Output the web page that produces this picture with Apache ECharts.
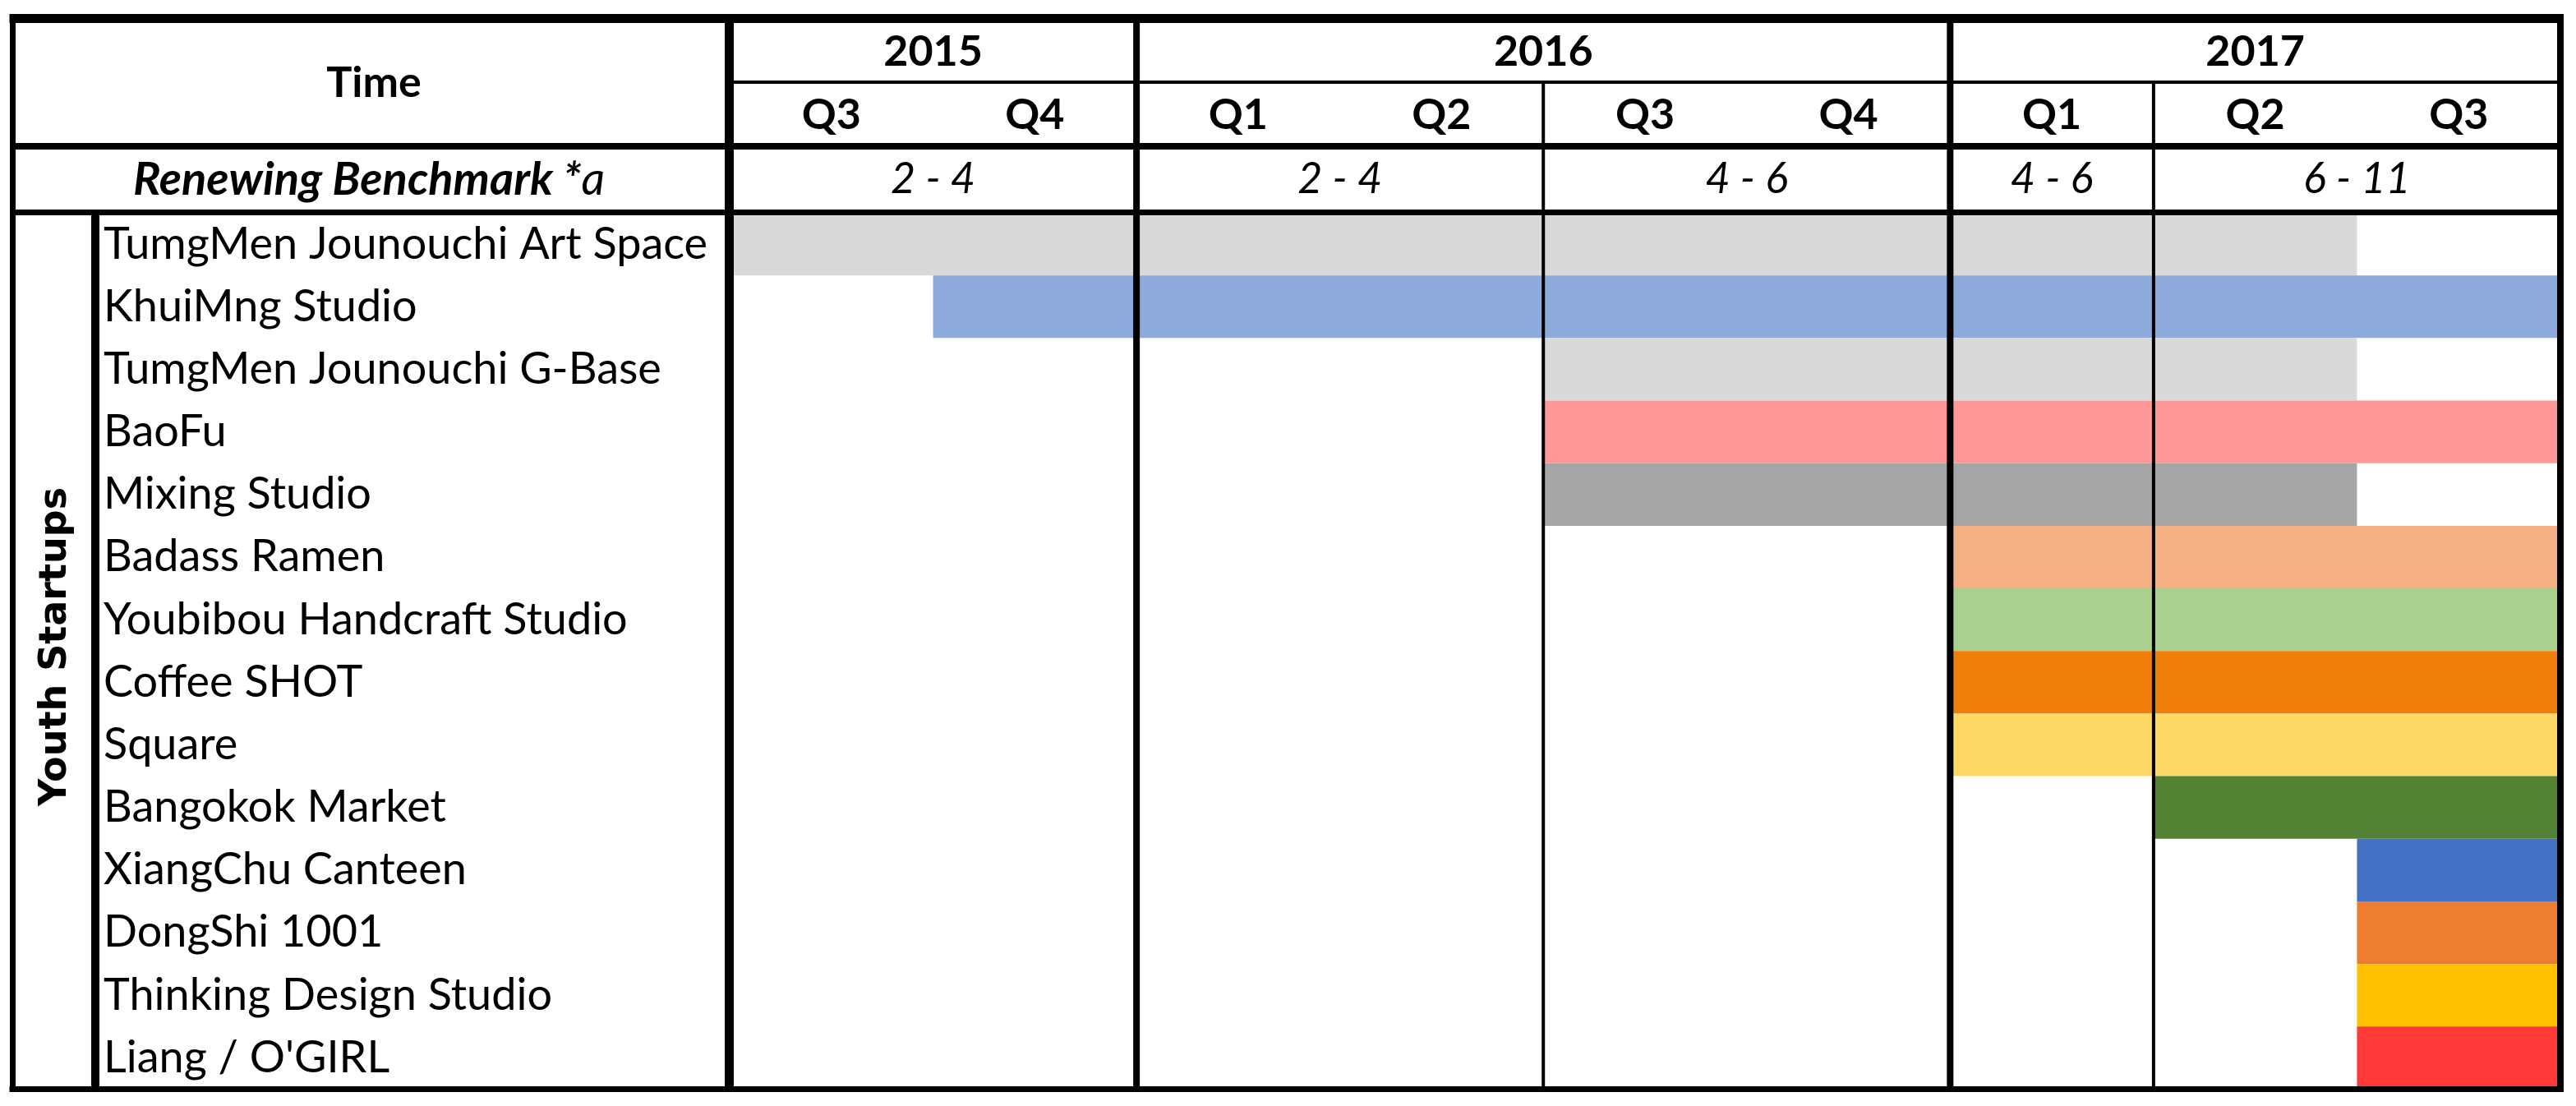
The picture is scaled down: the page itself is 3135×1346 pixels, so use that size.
<!DOCTYPE html>
<html>
<head>
<meta charset="utf-8">
<title>Youth Startups</title>
<script src="https://cdn.jsdelivr.net/npm/echarts@6/dist/echarts.min.js"></script>
<style>
  html, body { margin: 0; padding: 0; background: #fff; }
  #main { width: 3135px; height: 1346px; }
</style>
</head>
<body>
<div id="main"></div>
<script>
// table rows, top to bottom
const startups = [
  'TumgMen Jounouchi Art Space', 'KhuiMng Studio', 'TumgMen Jounouchi G-Base', 'BaoFu',
  'Mixing Studio', 'Badass Ramen', 'Youbibou Handcraft Studio', 'Coffee SHOT', 'Square',
  'Bangokok Market', 'XiangChu Canteen', 'DongShi 1001', 'Thinking Design Studio', 'Liang / O\'GIRL'
]
// quarter index (0 = 2015 Q3 ... 8 = 2017 Q3), start inclusive, end exclusive
const startQ = [0, 1, 4, 4, 4, 6, 6, 6, 6, 7, 8, 8, 8, 8]
const endQ   = [8, 9, 8, 9, 8, 9, 9, 9, 9, 9, 9, 9, 9, 9]
const barColors = [
  '#D9D9D9', '#8EA9DB', '#D9D9D9', '#FF9999', '#A6A6A6', '#F4B084', '#A9D08E',
  '#F07E0A', '#FFD966', '#548235', '#4472C4', '#ED7D31', '#FFC000', '#FF3838'
]

const quarters = ['Q3', 'Q4', 'Q1', 'Q2', 'Q3', 'Q4', 'Q1', 'Q2', 'Q3']
const years = ['2015', '2016', '2017']
const yearStart = [0, 2, 6]
const yearEnd = [2, 6, 9]
const benchmarks = ['2 - 4', '2 - 4', '4 - 6', '4 - 6', '6 - 11']
const benchStart = [0, 2, 4, 6, 7]
const benchEnd = [2, 4, 6, 7, 9]

const FONT = 'Lato, "Open Sans", sans-serif'
const FS = 52
const W = 3135, H = 1346
const tableLeft = 15.5, tableRight = 3116, tableTop = 22.5, tableBottom = 1325.5
const gridLeft = 888, gridTop = 259

// header cells: row 0 = years, 1 = quarters, 2 = benchmark
const headerCells = []
years.forEach((t, i) => headerCells.push({ s: yearStart[i], e: yearEnd[i], row: 0, text: t, bold: true }))
quarters.forEach((t, i) => headerCells.push({ s: i, e: i + 1, row: 1, text: t, bold: true }))
benchmarks.forEach((t, i) => headerCells.push({ s: benchStart[i], e: benchEnd[i], row: 2, text: t, italic: true }))

const chart = echarts.init(document.getElementById('main'))

const option = {
  animation: false,
  backgroundColor: '#fff',
  grid: [
    { left: gridLeft, right: W - tableRight, top: 24, height: 233 },
    { left: gridLeft, right: W - tableRight, top: gridTop, bottom: H - tableBottom }
  ],
  xAxis: [
    { gridIndex: 0, type: 'value', min: 0, max: 9, show: false },
    { gridIndex: 1, type: 'value', min: 0, max: 9, show: false }
  ],
  yAxis: [
    { gridIndex: 0, type: 'category', data: ['year', 'quarter', 'bench'], inverse: true, show: false },
    {
      gridIndex: 1, type: 'category', data: startups, inverse: true,
      axisLine: { show: false }, axisTick: { show: false }, splitLine: { show: false },
      axisLabel: { align: 'left', margin: gridLeft - 126, fontSize: 54, fontFamily: FONT, color: '#000' }
    }
  ],
  series: [
    {
      type: 'custom', xAxisIndex: 1, yAxisIndex: 1, silent: true,
      data: startups.map((n, i) => [startQ[i], endQ[i], i]),
      encode: { x: [0, 1], y: 2 },
      renderItem: (params, api) => {
        const row = api.value(2)
        const p0 = api.coord([api.value(0), row])
        const p1 = api.coord([api.value(1), row])
        const h = api.size([0, 1])[1]
        return {
          type: 'rect',
          shape: { x: p0[0], y: p0[1] - h / 2, width: p1[0] - p0[0], height: h },
          style: { fill: barColors[params.dataIndex] }
        }
      }
    },
    {
      type: 'custom', xAxisIndex: 0, yAxisIndex: 0, silent: true,
      data: headerCells.map(c => [c.s, c.e, c.row]),
      encode: { x: [0, 1], y: 2 },
      renderItem: (params, api) => {
        const c = headerCells[params.dataIndex]
        const p0 = api.coord([c.s, c.row])
        const p1 = api.coord([c.e, c.row])
        return {
          type: 'text',
          x: (p0[0] + p1[0]) / 2,
          y: p0[1],
          style: {
            text: c.text, fill: '#000', fontFamily: FONT, fontSize: FS,
            fontWeight: c.bold ? 'bold' : 'normal', fontStyle: c.italic ? 'italic' : 'normal',
            align: 'center', verticalAlign: 'middle'
          }
        }
      }
    }
  ]
}
chart.setOption(option)

// table rules, placed with the data grid's x scale
const qx = q => chart.convertToPixel({ xAxisIndex: 1 }, q)
function vline(x, y1, y2, w) {
  return { type: 'line', z: 100, silent: true, shape: { x1: x, y1: y1, x2: x, y2: y2 }, style: { stroke: '#000', lineWidth: w } }
}
function hline(y, x1, x2, w) {
  return { type: 'line', z: 100, silent: true, shape: { x1: x1, y1: y, x2: x2, y2: y }, style: { stroke: '#000', lineWidth: w } }
}
const lines = [
  hline(100, gridLeft, tableRight, 4),
  hline(178, tableLeft, tableRight, 8),
  hline(258.5, tableLeft, tableRight, 7),
  vline(887.5, tableTop, tableBottom, 11),
  vline(116, 258.5, tableBottom, 10),
  vline(qx(2), tableTop, tableBottom, 8),
  vline(qx(6), tableTop, tableBottom, 8),
  vline(qx(4), 100, tableBottom, 4),
  vline(qx(7), 100, tableBottom, 4),
  hline(tableTop, tableLeft - 4, tableRight + 4, 11),
  hline(tableBottom, tableLeft - 4, tableRight + 4, 7),
  vline(tableLeft, tableTop, tableBottom, 7),
  vline(tableRight, tableTop, tableBottom, 8)
]
const texts = [
  {
    type: 'text', z: 100, x: 455, y: 101,
    style: { text: 'Time', fill: '#000', fontFamily: FONT, fontSize: FS, fontWeight: 'bold', align: 'center', verticalAlign: 'middle' }
  },
  {
    type: 'text', z: 100, x: 449, y: 219,
    style: {
      text: '{b|Renewing Benchmark *}{i|a}', align: 'center', verticalAlign: 'middle',
      rich: {
        b: { fill: '#000', fontFamily: FONT, fontSize: 56, fontWeight: 'bold', fontStyle: 'italic' },
        i: { fill: '#000', fontFamily: FONT, fontSize: 56, fontStyle: 'italic' }
      }
    }
  },
  {
    type: 'text', z: 100, x: 68, y: 787, rotation: Math.PI / 2,
    style: { text: 'Youth Startups', fill: '#000', fontFamily: '"DejaVu Sans", sans-serif', fontSize: 46, fontWeight: 'bold', align: 'center', verticalAlign: 'middle' }
  }
]
chart.setOption({ graphic: { elements: lines.concat(texts) } })

window.addEventListener('resize', () => chart.resize())
</script>
</body>
</html>
